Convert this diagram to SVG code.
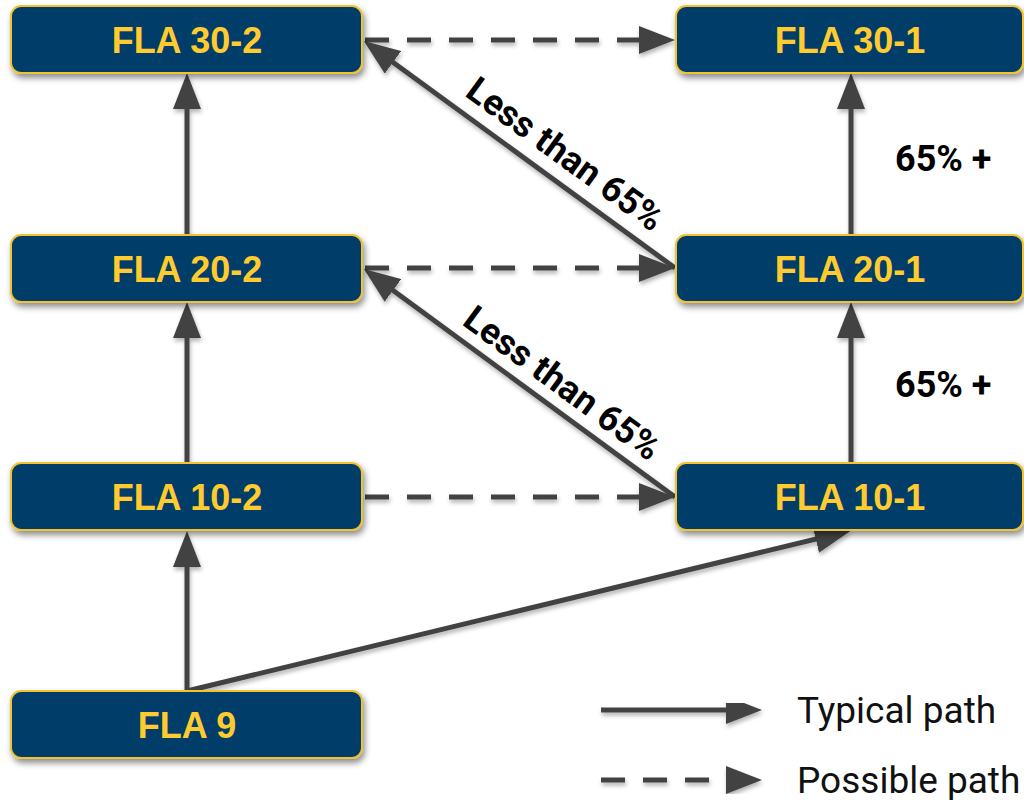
<svg xmlns="http://www.w3.org/2000/svg" width="1024" height="800" viewBox="0 0 1024 800">
<defs>
<filter id="sh" x="-10%" y="-20%" width="130%" height="160%">
<feDropShadow dx="2" dy="4" stdDeviation="3" flood-color="#000" flood-opacity="0.45"/>
</filter>
<filter id="lsh" x="-10%" y="-10%" width="130%" height="130%">
<feDropShadow dx="1" dy="3" stdDeviation="2" flood-color="#000" flood-opacity="0.3"/>
</filter>
<marker id="ah" viewBox="0 0 36 28" refX="26" refY="14" markerWidth="36" markerHeight="28" markerUnits="userSpaceOnUse" orient="auto">
<path d="M0,0 L36,14 L0,28 z" fill="#434343"/>
</marker>
</defs>
<style>
.box{fill:#013E69;stroke:#F2C230;stroke-width:2;filter:url(#sh)}
.bt{font-family:"Liberation Sans",Arial,sans-serif;font-weight:bold;font-size:36px;fill:#FFCB2F;text-anchor:middle}
.c{stroke:#434343;stroke-width:5;fill:none;marker-end:url(#ah)}
.d{stroke-dasharray:24 18}
.lbl{font-family:Roboto,"Liberation Sans",sans-serif;font-weight:bold;font-size:36px;fill:#000}
.leg{font-family:Roboto,"Liberation Sans",sans-serif;font-size:37px;fill:#111}
</style>
<rect width="1024" height="800" fill="#fff"/>
<g id="connectors" filter="url(#lsh)">
<line class="c" x1="187" y1="235" x2="187" y2="83"/>
<line class="c" x1="187" y1="463" x2="187" y2="312"/>
<line class="c" x1="187" y1="691" x2="187" y2="541"/>
<line class="c" x1="851" y1="234" x2="851" y2="83"/>
<line class="c" x1="851" y1="463" x2="851" y2="312"/>
<line class="c d" x1="365" y1="40" x2="665" y2="40"/>
<line class="c d" x1="365" y1="268" x2="665" y2="268"/>
<line class="c d" x1="365" y1="497" x2="665" y2="497"/>
<line class="c" x1="675" y1="268" x2="372" y2="47"/>
<line class="c" x1="675" y1="497" x2="372" y2="275"/>
<line class="c" x1="187" y1="691" x2="841" y2="533"/>
</g>
<g id="n302"><rect class="box" x="11" y="6" width="351" height="67" rx="10"/><text class="bt" x="187" y="53">FLA 30-2</text></g>
<g id="n202"><rect class="box" x="11" y="235" width="351" height="67" rx="10"/><text class="bt" x="187" y="282">FLA 20-2</text></g>
<g id="n102"><rect class="box" x="11" y="463" width="351" height="67" rx="10"/><text class="bt" x="187" y="510">FLA 10-2</text></g>
<g id="n9"><rect class="box" x="11" y="691" width="351" height="67" rx="10"/><text class="bt" x="187" y="738">FLA 9</text></g>
<g id="n301"><rect class="box" x="676" y="6" width="347" height="67" rx="10"/><text class="bt" x="850" y="53">FLA 30-1</text></g>
<g id="n201"><rect class="box" x="676" y="235" width="347" height="67" rx="10"/><text class="bt" x="850" y="282">FLA 20-1</text></g>
<g id="n101"><rect class="box" x="676" y="463" width="347" height="67" rx="10"/><text class="bt" x="850" y="510">FLA 10-1</text></g>
<g id="labels">
<text class="lbl" transform="translate(558,164) rotate(36.1)" text-anchor="middle">Less than 65%</text>
<text class="lbl" transform="translate(555,393) rotate(36.3)" text-anchor="middle">Less than 65%</text>
<text class="lbl" x="895" y="171">65% +</text>
<text class="lbl" x="895" y="397">65% +</text>
</g>
<g id="legend" filter="url(#lsh)">
<line class="c" x1="601" y1="710" x2="752" y2="710"/>
<line class="c d" x1="601" y1="780" x2="752" y2="780"/>
</g>
<g id="legend-text">
<text class="leg" x="797" y="723">Typical path</text>
<text class="leg" x="797" y="793">Possible path</text>
</g>
</svg>
